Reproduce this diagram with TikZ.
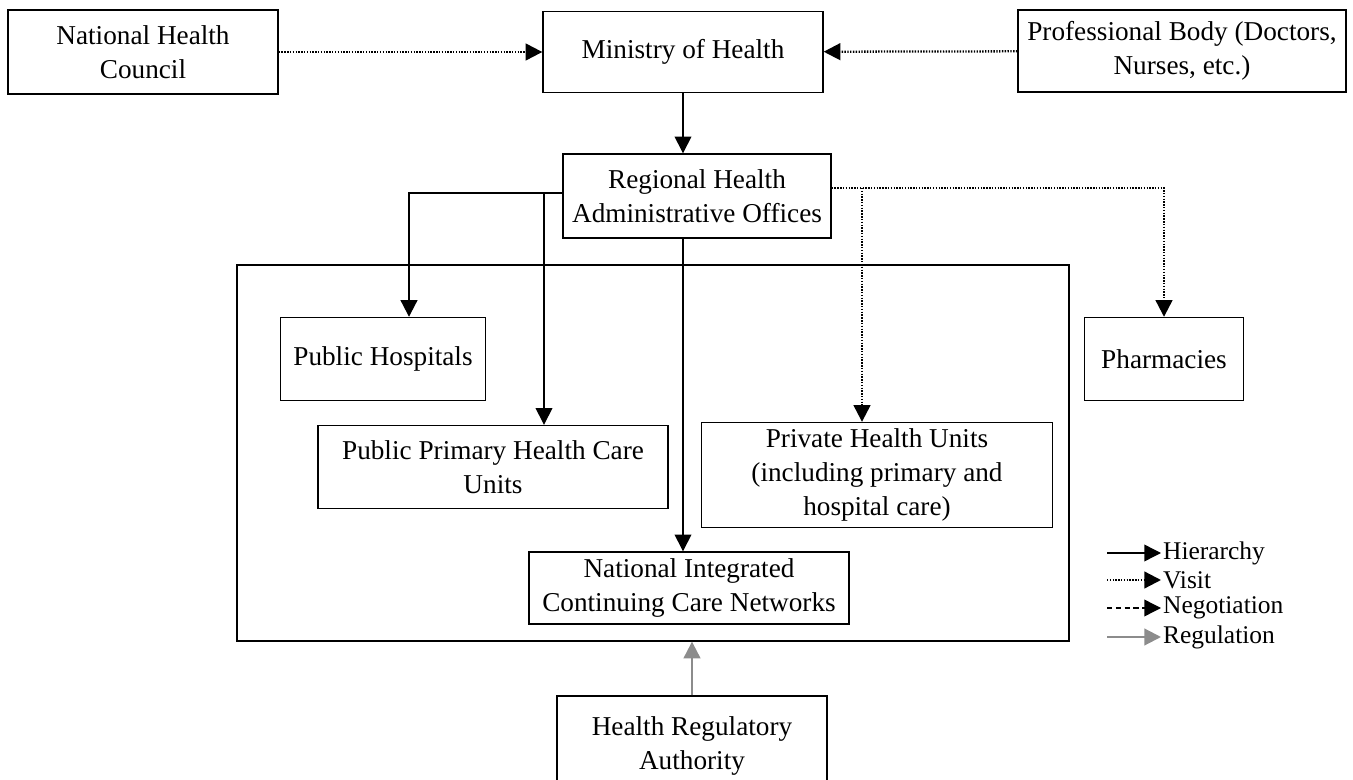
\documentclass[tikz,border=0pt]{standalone}
\usepackage{fontspec}
\setmainfont{Liberation Serif}
\usetikzlibrary{arrows.meta}

\begin{document}
\begin{tikzpicture}[x=0.02cm,y=-0.02cm,
        box/.style={draw, line width=0.8pt, align=center, text centered, font=\fontsize{15.5}{19.5}\selectfont},
        hier/.style={-{Triangle[length=9.5pt,width=9.5pt]}, line width=0.8pt},
        visit/.style={-{Triangle[length=9.5pt,width=9.5pt]}, line width=1.3pt, dash pattern=on 0.8pt off 0.8pt},
        nego/.style={-{Triangle[length=9.5pt,width=9.5pt]}, line width=0.8pt, dash pattern=on 3pt off 2pt},
        regul/.style={-{Triangle[length=9.5pt,width=9.5pt]}, line width=1.2pt, draw=gray!90, fill=gray!90},
        legtext/.style={inner sep=1pt, anchor=west, font=\fontsize{14.5}{17}\selectfont}]
            \useasboundingbox (0,0) rectangle (1353,780);

            \node[box, minimum width=5.4cm, minimum height=1.68cm] at (143,52) (nhc) {National Health\\Council};
            \node[box, minimum width=5.6cm, minimum height=1.62cm] at (683,52) (moh) {Ministry of Health};
            \node[box, minimum width=6.56cm, minimum height=1.64cm] at (1182,51) (prof) {Professional Body (Doctors,\\Nurses, etc.)};

            \node[box, minimum width=5.36cm, minimum height=1.68cm] at (697,196) (rhao) {Regional Health\\Administrative Offices};

            \node[draw, line width=0.8pt, minimum width=16.64cm, minimum height=7.52cm] at (653,453) (care) {};

            \node[box, minimum width=4.1cm, minimum height=1.66cm] at (383,359) (hosp) {Public Hospitals};
            \node[box, minimum width=3.18cm, minimum height=1.66cm] at (1164,359) (pharm) {Pharmacies};
            \node[box, minimum width=7.0cm, minimum height=1.66cm] at (493,467) (phc) {Public Primary Health Care\\Units};
            \node[box, minimum width=7.02cm, minimum height=2.02cm] at (877,475) (priv) {Private Health Units\\(including primary and\\hospital care)};
            \node[box, minimum width=6.4cm, minimum height=1.44cm] at (689,588) (nicc) {National Integrated\\Continuing Care Networks};

            \node[box, minimum width=5.4cm, minimum height=2.0cm] at (692,746) (hra) {Health Regulatory\\Authority};

            % connectors
            \draw[visit] (nhc) -- (moh);
            \draw[visit] (prof) -- (moh);
            \draw[hier] (moh.south) -- (moh.south |- rhao.north);

            \coordinate (lh) at (409,193);
            \coordinate (lp) at (544,193);
            \draw[hier, line width=1.2pt] (rhao.west |- lh) -- (lh) -- (lh |- hosp.north);
            \draw[hier] (lp) -- (lp |- phc.north);
            \draw[hier] (rhao.south -| moh.south) -- (moh.south |- nicc.north);

            \coordinate (rp) at (1164,188);
            \coordinate (rv) at (862,188);
            \draw[visit] (rhao.east |- rp) -- (rp) -- (pharm.north);
            \draw[visit] (rv) -- (rv |- priv.north);

            \draw[regul] (hra.north) -- (hra.north |- care.south);

            % legend
            \node[legtext] at (1161,553) (kh) {Hierarchy};
            \node[legtext] at (1161,580) (kv) {Visit};
            \node[legtext] at (1161,608) (kn) {Negotiation};
            \node[legtext] at (1161,637) (kr) {Regulation};
            \coordinate (ch) at (1107,553);
            \coordinate (cv) at (1107,580);
            \coordinate (cn) at (1107,608);
            \coordinate (cr) at (1107,637);
            \draw[hier] (ch) -- (kh.west);
            \draw[visit] (cv) -- (kv.west);
            \draw[nego] (cn) -- (kn.west);
            \draw[regul] (cr) -- (kr.west);
        \end{tikzpicture}
\end{document}
